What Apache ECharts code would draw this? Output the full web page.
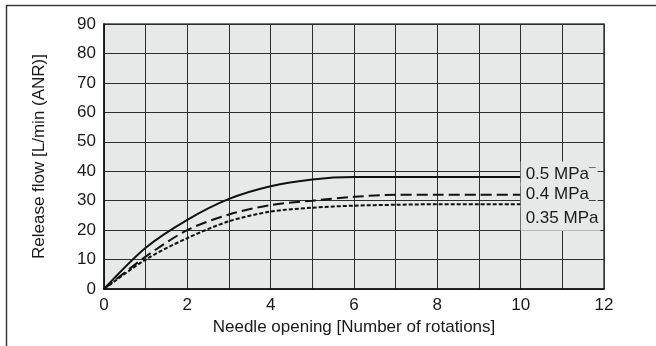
<!DOCTYPE html>
<html>
<head>
<meta charset="utf-8">
<script src="https://cdn.jsdelivr.net/npm/echarts@6/dist/echarts.min.js"></script>
<style>
html,body{margin:0;padding:0;background:#fff;}
#c{width:656px;height:346px;}
</style>
</head>
<body>
<div id="c"></div>
<script>
// Data
var rotations = [0, 1, 2, 3, 4, 5, 6, 7, 8, 9, 10];
var flow05 = [0, 14, 23.5, 30.6, 34.9, 37.2, 38, 38, 38, 38, 38];
var flow04 = [0, 11, 20, 25.3, 28.5, 30, 31.3, 32, 32, 32, 32];
var flow035 = [0, 10, 17.3, 23, 26.3, 27.6, 28.3, 28.6, 28.8, 28.8, 28.8];
var seriesNames = ['0.5 MPa', '0.4 MPa', '0.35 MPa'];
var xTicks = [0, 2, 4, 6, 8, 10, 12];
var yTicks = [0, 10, 20, 30, 40, 50, 60, 70, 80, 90];

var FONT = "'Liberation Sans', Arial, sans-serif";
var BG = '#e7e8e8';
var FS = 17;

function pairs(xs, ys) { return xs.map(function (x, i) { return [x, ys[i]]; }); }

function lineSeries(name, ys, dash, offset, tail) {
  return {
    name: name,
    type: 'line',
    data: pairs(rotations, ys),
    smooth: 0.3,
    showSymbol: false,
    symbol: 'none',
    lineStyle: { color: '#111', width: 2, type: dash },
    z: 3,
    endLabel: {
      show: true,
      formatter: '{t|' + name + '}' + (tail ? '{k|' + tail + '}' : ''),
      distance: 0,
      offset: offset,
      backgroundColor: BG,
      padding: [3, 2, 3, 5],
      rich: {
        t: { fontFamily: FONT, fontSize: FS, color: '#1a1a1a', lineHeight: 19 },
        k: { fontFamily: FONT, fontSize: 12, color: '#1a1a1a', lineHeight: 19 }
      }
    }
  };
}

var chart = echarts.init(document.getElementById('c'), null, { renderer: 'canvas' });
chart.setOption({
  animation: false,
  backgroundColor: '#fff',
  graphic: [{
    type: 'rect', left: 4, top: 3, z: -1,
    shape: { width: 700, height: 400 },
    style: { fill: 'none', stroke: '#3a3a3a', lineWidth: 1.5 }
  }],
  grid: {
    left: 104, top: 24, right: 52, bottom: 57,
    show: true, backgroundColor: BG, borderColor: '#444', borderWidth: 1.5
  },
  xAxis: {
    type: 'value', min: xTicks[0], max: xTicks[xTicks.length - 1], interval: 2,
    name: 'Needle opening [Number of rotations]',
    nameLocation: 'middle', nameGap: 27,
    nameTextStyle: { fontFamily: FONT, fontSize: FS, color: '#1a1a1a' },
    axisLine: { show: true, onZero: false, lineStyle: { color: '#111', width: 1.5 } },
    axisTick: { show: false },
    axisLabel: { fontFamily: FONT, fontSize: FS, color: '#1a1a1a', margin: 8 },
    splitLine: { show: true, lineStyle: { color: '#2e2e2e', width: 1 } },
    minorTick: { show: false, splitNumber: 2 },
    minorSplitLine: { show: true, lineStyle: { color: '#2e2e2e', width: 1 } }
  },
  yAxis: {
    type: 'value', min: yTicks[0], max: yTicks[yTicks.length - 1], interval: 10,
    name: 'Release flow [L/min (ANR)]',
    nameLocation: 'middle', nameGap: 56,
    nameTextStyle: { fontFamily: FONT, fontSize: FS, color: '#1a1a1a' },
    axisLine: { show: true, lineStyle: { color: '#111', width: 1.5 } },
    axisTick: { show: false },
    axisLabel: { fontFamily: FONT, fontSize: FS, color: '#1a1a1a', margin: 8 },
    splitLine: { show: true, lineStyle: { color: '#2e2e2e', width: 1 } }
  },
  series: [
    lineSeries(seriesNames[0], flow05, 'solid', [0, -3], '\u00AF'),
    lineSeries(seriesNames[1], flow04, [11, 5], [0, 0], '_'),
    lineSeries(seriesNames[2], flow035, [4, 2], [0, 14], '')
  ]
});
</script>
</body>
</html>
